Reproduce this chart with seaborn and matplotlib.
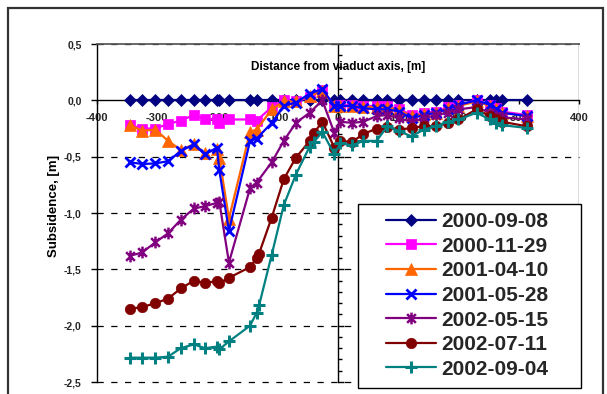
import numpy as np
import pandas as pd
import matplotlib
matplotlib.use("Agg")
import matplotlib.pyplot as plt
import seaborn as sns
from matplotlib.path import Path
from matplotlib.patches import Rectangle
from matplotlib.lines import Line2D
from matplotlib.ticker import MultipleLocator, FixedLocator, FuncFormatter

sns.set_theme(style="white")
plt.rcParams["font.family"] = ["Liberation Sans", "DejaVu Sans"]
plt.rcParams["font.weight"] = "bold"
plt.rcParams["axes.unicode_minus"] = False

nan = np.nan
distance = [-345, -325, -303, -282, -261, -239, -221, -201, -197, -181, -146, -135, -131,
            -110, -90, -70, -47, -40, -26, -6, 4, 23, 42, 64, 82, 102, 122, 142, 163,
            182, 200, 230, 252, 262, 272, 313]

d_2000_09_08 = [0, 0, 0, 0, 0, 0, 0, 0, 0, 0, 0, 0, nan,
                0, 0, 0, 0, nan, 0, 0, 0, 0, 0, 0, 0, 0, 0, 0, 0,
                0, 0, 0, 0, 0, 0, 0]
d_2000_11_29 = [-0.22, -0.25, -0.25, -0.21, -0.18, -0.13, -0.17, -0.17, -0.20, -0.17, -0.17, -0.18, nan,
                -0.06, 0.00, -0.01, 0.03, nan, 0.09, -0.05, -0.04, -0.04, -0.05, -0.05, -0.05, -0.08, -0.13, -0.11, -0.10,
                -0.06, -0.04, 0.00, -0.04, -0.07, -0.10, -0.13]
d_2001_04_10 = [-0.22, -0.27, -0.26, -0.36, -0.44, -0.39, -0.47, -0.43, -0.51, -1.05, -0.28, -0.26, nan,
                -0.08, -0.01, -0.01, 0.04, nan, 0.08, -0.05, -0.05, -0.05, -0.06, -0.06, -0.06, -0.09, -0.14, -0.12, -0.11,
                -0.07, -0.05, -0.01, -0.05, -0.08, -0.11, -0.14]
d_2001_05_28 = [-0.55, -0.565, -0.56, -0.54, -0.45, -0.39, -0.48, -0.42, -0.62, -1.16, -0.36, -0.34, nan,
                -0.20, -0.05, -0.02, 0.06, nan, 0.10, -0.05, -0.05, -0.05, -0.07, -0.08, -0.08, -0.10, -0.16, -0.13, -0.11,
                -0.08, -0.04, 0.00, -0.04, -0.08, -0.11, -0.14]
d_2002_05_15 = [-1.38, -1.35, -1.26, -1.18, -1.06, -0.96, -0.94, -0.91, -0.90, -1.44, -0.78, -0.73, nan,
                -0.55, -0.36, -0.20, -0.11, nan, 0.00, -0.29, -0.19, -0.20, -0.19, -0.14, -0.13, -0.16, -0.19, -0.16, -0.13,
                -0.11, -0.08, -0.06, -0.11, -0.14, -0.15, -0.17]
d_2002_07_11 = [-1.85, -1.835, -1.80, -1.76, -1.67, -1.60, -1.62, -1.605, -1.625, -1.575, -1.48, -1.40, -1.36,
                -1.04, -0.70, -0.51, -0.36, -0.29, -0.19, -0.42, -0.36, -0.37, -0.30, -0.25, -0.24, -0.26, -0.245, -0.23, -0.23,
                -0.20, -0.17, -0.08, -0.14, -0.17, -0.19, -0.23]
d_2002_09_04 = [-2.284, -2.284, -2.284, -2.275, -2.20, -2.166, -2.20, -2.186, -2.21, -2.14, -2.00, -1.885, -1.82,
                -1.37, -0.93, -0.66, -0.41, -0.37, -0.28, -0.48, -0.38, -0.40, -0.36, -0.36, -0.23, -0.275, -0.32, -0.26, -0.23,
                -0.19, -0.17, -0.11, -0.17, -0.20, -0.22, -0.245]

dates = ["2000-09-08", "2000-11-29", "2001-04-10", "2001-05-28",
         "2002-05-15", "2002-07-11", "2002-09-04"]
series = [d_2000_09_08, d_2000_11_29, d_2001_04_10, d_2001_05_28,
          d_2002_05_15, d_2002_07_11, d_2002_09_04]

colors = ["#000080", "#FF00FF", "#FF6600", "#0000FF", "#800080", "#800000", "#008080"]

star = Path([(-1, -1), (1, 1), (-1, 1), (1, -1), (0, -1.35), (0, 1.35)],
            [Path.MOVETO, Path.LINETO, Path.MOVETO, Path.LINETO, Path.MOVETO, Path.LINETO])
styles = [
    dict(marker="D", markersize=6.0, markeredgewidth=0.5),
    dict(marker="s", markersize=7.0, markeredgewidth=0.5),
    dict(marker="^", markersize=8.0, markeredgewidth=0.5),
    dict(marker="x", markersize=7.0, markeredgewidth=2.0),
    dict(marker=star, markersize=8.5, markeredgewidth=1.8),
    dict(marker="o", markersize=7.5, markeredgewidth=0.5),
    dict(marker="+", markersize=9.0, markeredgewidth=2.2),
]

W, H = 607, 394
fig = plt.figure(figsize=(W / 100, H / 100), dpi=100)
fig.patch.set_facecolor("white")

# outer chart frame
frame = Rectangle((8 / W, -0.05), (603 - 8) / W, 1.05 - 8 / H,
                  transform=fig.transFigure, fill=False, edgecolor="#333333", lw=1.6, zorder=0)
fig.add_artist(frame)

ax = fig.add_axes([97 / W, 12 / H, 482 / W, 338 / H])
ax.set_facecolor("white")
ax.set_xlim(-400, 400)
ax.set_ylim(-2.5, 0.5)

for lab, vals, col, st in zip(dates, series, colors, styles):
    df = pd.DataFrame({"distance": distance, "subsidence": vals}).dropna()
    sns.lineplot(data=df, x="distance", y="subsidence", ax=ax, sort=False, estimator=None,
                 color=col, lw=1.6, markerfacecolor=col, markeredgecolor=col,
                 label=lab, legend=False, zorder=3, **st)

# dashed gridlines
for yv in [0.5, -0.5, -1.0, -1.5, -2.0, -2.5]:
    ax.axhline(yv, color="black", lw=0.9, ls=(0, (5, 6)), zorder=1, clip_on=False)
ax.axvline(400, color="#555555", lw=1.0, zorder=1)

# spines
ax.spines["top"].set_visible(True)
ax.spines["top"].set_color("#555555")
ax.spines["left"].set_color("black")
ax.spines["left"].set_linewidth(1.0)
ax.spines["bottom"].set_position(("data", 0))
ax.spines["bottom"].set_color("black")
ax.spines["bottom"].set_linewidth(1.0)
ax.spines["right"].set_position(("data", 0))
ax.spines["right"].set_color("black")
ax.spines["right"].set_linewidth(1.0)

ax.xaxis.set_major_locator(FixedLocator([-400, -300, -200, -100, 0, 100, 200, 300, 400]))
ax.xaxis.set_major_formatter(FuncFormatter(lambda v, p: f"{int(round(v))}"))
ax.yaxis.set_major_locator(MultipleLocator(0.5))
ax.yaxis.set_minor_locator(MultipleLocator(0.1))
ax.yaxis.set_major_formatter(FuncFormatter(lambda v, p: f"{v:.1f}".replace(".", ",").replace("-0,0", "0,0")))
ax.tick_params(axis="y", which="major", left=True, right=True, direction="out", length=4,
               width=1, color="black", labelsize=7.5, pad=7, labelleft=True, labelright=False)
ax.tick_params(axis="y", which="minor", left=False, right=True, direction="out", length=3,
               width=1, color="black")
ax.tick_params(axis="x", which="major", bottom=True, direction="out", length=3, width=1,
               color="black", labelsize=8, pad=6)
for t in ax.get_xticklabels() + ax.get_yticklabels():
    t.set_fontweight("bold")
ax.set_xlabel("")
ax.set_ylabel("")
ax.grid(False)

ax.text(0, 0.3, "Distance from viaduct axis, [m]", ha="center", va="center",
        fontsize=8.5, fontweight="bold", color="black", zorder=4)
fig.text(54 / W, 1 - 206 / H, "Subsidence, [m]", rotation=90, ha="center", va="center",
         fontsize=9.5, fontweight="bold", color="black")

# legend box
legbox = Rectangle((358 / W, 1 - 388 / H), (581 - 358) / W, (388 - 204) / H,
                   transform=fig.transFigure, facecolor="white", edgecolor="black", lw=1.0, zorder=4)
fig.add_artist(legbox)
handles = [Line2D([], [], color=c, lw=1.6, markerfacecolor=c, markeredgecolor=c, **s)
           for c, s in zip(colors, styles)]
leg = fig.legend(handles, dates, loc="upper left", bbox_to_anchor=(386 / W, 1 - 212 / H),
                 bbox_transform=fig.transFigure, frameon=False, borderpad=0, borderaxespad=0,
                 handlelength=2.4, handletextpad=0.25, labelspacing=0.27,
                 prop={"size": 15, "weight": "bold"})
leg.set_zorder(5)

fig.savefig("out.png", dpi=100, facecolor="white")
